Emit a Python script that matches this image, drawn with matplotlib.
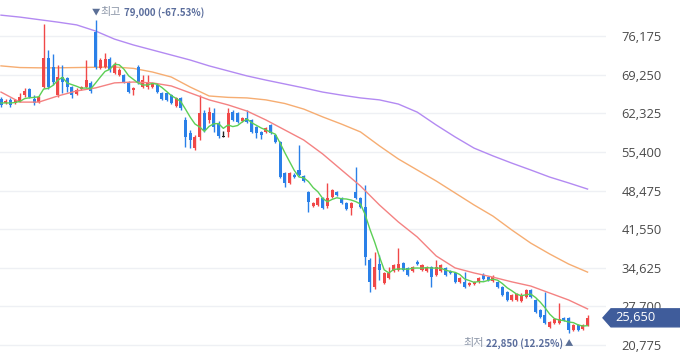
import numpy as np
import pandas as pd
import matplotlib
matplotlib.use("Agg")
import matplotlib.pyplot as plt
from matplotlib.patches import Polygon
from matplotlib.transforms import blended_transform_factory

# daily candles (won)
opens = [64900, 64200, 64750, 64250, 64600, 65600, 66700, 64900, 64400, 67050,
         72250, 70650, 65600, 68850, 68650, 67050, 65800, 66700, 67050, 67800,
         76950, 70450, 70650, 72100, 69550, 69200, 69200, 67950, 66500, 70650,
         67050, 67050, 67050, 67400, 66000, 66000, 65600, 63650, 65100, 61150,
         58800, 56100, 58100, 62400, 61150, 62400, 60600, 58100, 59000, 62600,
         62400, 60950, 61500, 61150, 59900, 59000, 59000, 60250, 58450, 57200,
         51650, 49850, 51250, 52150, 51100, 48200, 45700, 45900, 47150, 45700,
         47350, 48200, 47150, 46250, 45350, 48200, 47150, 45550, 36000, 31200,
         35300, 31900, 32800, 34050, 34250, 35500, 34600, 34050, 35650, 34250,
         34050, 34750, 33350, 34050, 34600, 34050, 33700, 32100, 32100, 31550,
         31700, 32100, 33350, 32950, 32250, 32100, 31200, 30300, 28850, 28850,
         28650, 29450, 30650, 28850, 27050, 26150, 24000, 24700, 24700, 25600,
         25600, 23450, 24350, 23650, 24350]
closes = [63850, 64600, 63850, 64750, 65300, 66400, 65300, 64250, 65250, 72250,
          67050, 67950, 68850, 67950, 67050, 65600, 66500, 67050, 68300, 66350,
          70650, 71900, 72100, 70100, 71000, 70100, 67950, 66150, 66900, 67800,
          68300, 67950, 67600, 66150, 64900, 64750, 64200, 65100, 63300, 58100,
          57550, 58100, 62400, 59350, 62600, 59900, 58250, 58100, 62400, 61150,
          60800, 61500, 60800, 59000, 58800, 58450, 59700, 58800, 57200, 50900,
          49850, 51650, 50900, 51250, 50200, 46450, 46250, 47150, 45350, 47150,
          48600, 47700, 46250, 45150, 46250, 47150, 45550, 36550, 32100, 34750,
          34250, 33700, 33700, 35150, 35300, 34250, 33350, 34750, 35300, 35150,
          34750, 32950, 34750, 35150, 33350, 33700, 32100, 32800, 31200, 31900,
          32100, 32800, 32600, 32450, 32950, 31200, 29750, 28850, 29750, 29950,
          29750, 30650, 29450, 26700, 25800, 24700, 24900, 25450, 25450, 25250,
          23450, 24350, 23450, 24350, 25650]
highs = [65250, 64900, 65100, 64900, 66000, 66900, 66900, 65600, 65450, 78350,
         73700, 73000, 71000, 71000, 68850, 67250, 66900, 67250, 71900, 68150,
         79000, 72250, 73150, 72450, 71550, 70450, 69400, 68150, 67050, 71000,
         69200, 69200, 67800, 67800, 66150, 66150, 65800, 65250, 65250, 61700,
         59350, 58450, 65600, 62950, 63450, 63300, 60950, 59150, 63300, 62950,
         62600, 61700, 62950, 61300, 60050, 59150, 59900, 60400, 58650, 57350,
         51800, 51800, 51650, 56650, 51250, 48400, 46450, 47350, 47350, 49850,
         48750, 48400, 47350, 46450, 46450, 52700, 47350, 49500, 36400, 37450,
         36900, 33850, 34750, 35300, 38200, 35650, 34750, 34950, 36000, 35300,
         34950, 34950, 36000, 35300, 34750, 34250, 33850, 32950, 33850, 32100,
         32250, 32950, 33700, 33150, 33350, 32250, 31350, 30450, 29950, 30100,
         30100, 30800, 30800, 29050, 27250, 30300, 25050, 25600, 28300, 25800,
         25800, 24550, 24550, 24550, 26150]
lows = [63450, 64000, 63450, 64000, 64350, 65250, 65100, 63850, 64200, 66900,
        66700, 67400, 65250, 66000, 66150, 65100, 65600, 66500, 66900, 66000,
        70300, 70300, 70450, 69750, 69400, 69050, 67800, 66000, 65600, 67600,
        66900, 66700, 66900, 66000, 64750, 64550, 64000, 63450, 62950, 56300,
        56100, 55750, 57550, 59000, 60600, 59000, 57900, 58100, 58100, 60950,
        60600, 60800, 60600, 58800, 57900, 57750, 58800, 58650, 57000, 50750,
        49100, 49650, 50750, 51100, 50000, 44650, 45550, 45700, 45150, 45350,
        47150, 47500, 46050, 45000, 44100, 46950, 45350, 35150, 30300, 30800,
        32450, 31700, 32600, 33850, 34050, 34050, 33150, 33850, 35150, 34050,
        33850, 31200, 33150, 33850, 33150, 33500, 31900, 31900, 31000, 31350,
        31550, 31900, 32450, 32250, 32100, 31000, 29550, 28650, 28650, 28650,
        28500, 29250, 29250, 26500, 25600, 24550, 23850, 24550, 24550, 25100,
        22850, 23300, 23300, 23450, 24200]
prev_closes = [64500, 64000, 64200, 64400]  # days before the window, for MA5

# longer moving averages, read every 4th day
ma20 = [66150, 64350, 64350, 65450, 66350, 66900, 67800, 67950, 67800, 67250,
        66000, 64750, 63850, 62750, 61150, 59350, 57550, 55050, 52170, 49300,
        45900, 42850, 40150, 36750, 34600, 33700, 32950, 32100, 31350, 30100,
        28850, 27250]
ma60 = [70850, 70550, 70500, 70500, 70550, 70600, 70650, 70400, 69750, 68850,
        67050, 65450, 65200, 65100, 64750, 64100, 63100, 61700, 60400, 59000,
        56500, 54150, 52170, 50200, 48050, 45900, 43900, 41400, 39050, 37100,
        35300, 33850]
ma120 = [79950, 79600, 79150, 78700, 78200, 77100, 75650, 74600, 73700, 72800,
         71900, 70850, 69950, 69050, 68300, 67600, 66900, 66150, 65600, 65100,
         64750, 64000, 62550, 60250, 58100, 56100, 54700, 53400, 52170, 50900,
         49850, 48750]

yticks = [20775, 27700, 34625, 41550, 48475, 55400, 62325, 69250, 76175]

RED = "#f04848"
BLUE = "#2a80e8"
KR = ["Noto Sans CJK KR", "DejaVu Sans"]

o = np.array(opens); c = np.array(closes)
h = np.array(highs); l = np.array(lows)
n = len(c)
x = np.arange(n)

ma5 = pd.Series(prev_closes + closes).rolling(5).mean().to_numpy()[len(prev_closes):]
ma_x = np.arange(0, n, 4)

fig = plt.figure(figsize=(6.8, 3.58), dpi=100)
ax = fig.add_axes([0, 0, 606 / 680, 1])
ax.set_xlim(-0.21, 127.9)
ax.set_ylim(18443, 82668)

for t in yticks:
    ax.axhline(t, color="#eef0f4", lw=1, zorder=0)

colors = np.where(c > o, RED, np.where(c < o, BLUE, "#222222"))
ax.vlines(x, l, h, colors=colors, lw=1, zorder=2)
body = np.maximum(np.abs(c - o), 120)
ax.bar(x, body, bottom=np.minimum(o, c), width=0.64, color=colors, lw=0, zorder=3)

ax.plot(ma_x, ma120, color="#b38af2", lw=1, zorder=1)
ax.plot(ma_x, ma60, color="#f6ad72", lw=1, zorder=1)
ax.plot(ma_x, ma20, color="#f48282", lw=1, zorder=4)
ax.plot(x, ma5, color="#5ccf55", lw=1, zorder=4)

ax.yaxis.tick_right()
ax.set_yticks(yticks)
ax.set_yticklabels([f"{t:,}" for t in yticks], fontsize=9.3, color="#4a4a4a",
                   fontfamily="Open Sans")
ax.tick_params(axis="y", length=0, pad=11)
ax.set_xticks([])
for s in ax.spines.values():
    s.set_visible(False)

# high / low markers
hi = int(np.argmax(h)); lo = int(np.argmin(l))
ax.annotate("▼", (hi, h[hi]), xytext=(0, 8), textcoords="offset pixels",
            ha="center", va="center", fontsize=6, color="#5b6f96", family=KR)
hi_word = ax.annotate("최고", (hi, h[hi]), xytext=(5, 8), textcoords="offset pixels",
                      ha="left", va="center", fontsize=8, color="#8c96a8", family=KR)
ax.annotate(f"{h[hi]:,} (-67.53%)", (1, 0.5), xycoords=hi_word, xytext=(3, 0),
            textcoords="offset pixels", ha="left", va="center", fontsize=7,
            color="#5a6d9c", fontweight="bold", family=KR)
ax.annotate("▲", (lo, l[lo]), xytext=(0, -10), textcoords="offset pixels",
            ha="center", va="center", fontsize=6, color="#5b6f96", family=KR)
lo_num = ax.annotate(f"{l[lo]:,} (12.25%)", (lo, l[lo]), xytext=(-6, -10),
                     textcoords="offset pixels", ha="right", va="center", fontsize=7,
                     color="#5a6d9c", fontweight="bold", family=KR)
ax.annotate("최저", (0, 0.5), xycoords=lo_num, xytext=(-2, 0),
            textcoords="offset pixels", ha="right", va="center", fontsize=8,
            color="#8c96a8", family=KR)

# current price tag
last = c[-1]
half = 9 / 358 * (ax.get_ylim()[1] - ax.get_ylim()[0])
tr = blended_transform_factory(fig.transFigure, ax.transData)
tag = Polygon([(603 / 680, last), (611 / 680, last + half), (1, last + half),
               (1, last - half), (611 / 680, last - half)],
              closed=True, transform=tr, color="#3f5c9b", clip_on=False, zorder=5)
fig.patches.append(tag)
fig.text(615 / 680, last, f"{last:,}", transform=tr, ha="left", va="center",
         fontsize=9.3, color="white", fontfamily="Open Sans", zorder=6)

fig.savefig("out.png", dpi=100)
